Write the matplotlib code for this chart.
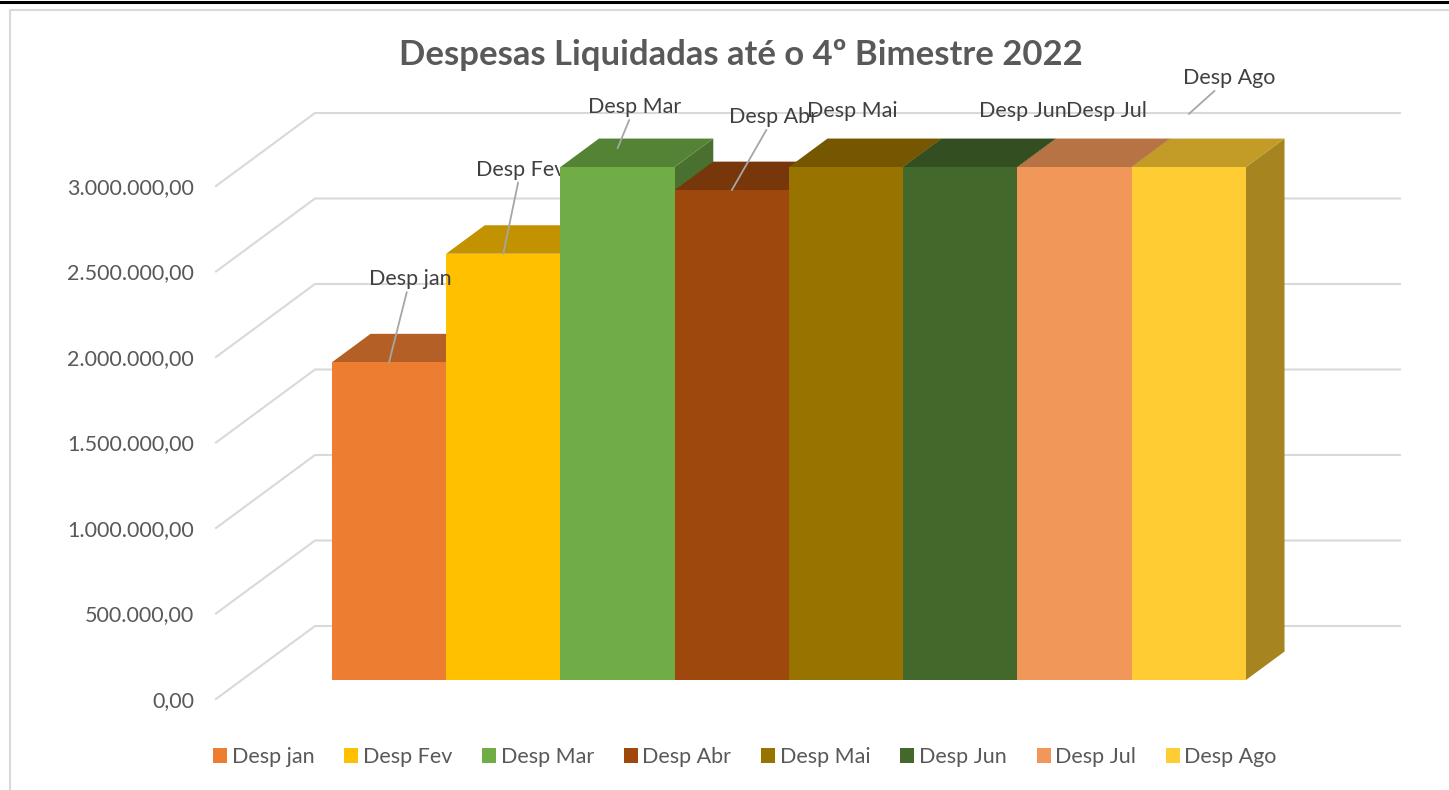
import matplotlib
matplotlib.use('Agg')
import matplotlib.pyplot as plt
from matplotlib.patches import Polygon, Patch
from matplotlib.lines import Line2D

# ---------------- data ----------------
title = 'Despesas Liquidadas até o 4º Bimestre 2022'
series = ['Desp jan', 'Desp Fev', 'Desp Mar', 'Desp Abr', 'Desp Mai', 'Desp Jun', 'Desp Jul', 'Desp Ago']
values = [1858000, 2493000, 3110000, 2865000, 3200000, 3200000, 3200000, 3310000]
colors = ['#ED7D31', '#FFC000', '#70AD47', '#9E480E', '#997300', '#43682B', '#F1975A', '#FFCD33']
yticks = [0, 500000, 1000000, 1500000, 2000000, 2500000, 3000000]
YMAX = 3000000

# ---------------- styling / layout ----------------
FONT = ['Lato', 'DejaVu Sans']
plt.rcParams['font.family'] = FONT
TXT = '#595959'
GRID = '#D9D9D9'

# label offsets (pixels, from the value point), leader-line flags, label layering
label_off = [(21, 83), (17.5, 84), (17, 41), (42, 73), (6, 22), (63, 22), (32, 22), (40, 36)]
leader = [True, True, True, True, False, False, False, True]
label_front = [True, False, True, True, True, True, True, True]

W, H = 1449, 790
fig = plt.figure(figsize=(W / 100, H / 100), dpi=100)
ax = fig.add_axes([0, 0, 1, 1])

PX_CAT = 114.25          # pixels per category
PX_VAL = 171e-6          # pixels per value unit
X0 = 363.3               # pixel x of category 0 centre at depth 0
Y0 = 91                  # pixel (from bottom) of value 0 at depth 0
ax.set_xlim(-X0 / PX_CAT, (W - X0) / PX_CAT)
ax.set_ylim(-Y0 / PX_VAL, (H - Y0) / PX_VAL)
ax.axis('off')

DX = 99 / PX_CAT         # x shift per unit depth
DY = 73 / PX_VAL         # y shift per unit depth
D_FRONT = 0.26
D_BACK = 0.65


def proj(x, v, d):
    return (x + d * DX, v + d * DY)


x_wall = (216 - X0) / PX_CAT
x_end = (1400 - 99 - X0) / PX_CAT

# walls / gridlines
for t in yticks:
    p0 = proj(x_wall, t, 0)
    p1 = proj(x_wall, t, 1)
    p2 = proj(x_end, t, 1)
    ax.plot([p0[0], p1[0], p2[0]], [p0[1], p1[1], p2[1]], color=GRID, lw=1.5,
            solid_joinstyle='miter', zorder=1)
    lbl = '{:,.2f}'.format(t).replace(',', 'X').replace('.', ',').replace('X', '.')
    ax.annotate(lbl, xy=p0, xytext=(-22, -2), textcoords='offset pixels',
                ha='right', va='center', fontsize=15.5, color=TXT, zorder=2)


def shade(c, f):
    c = matplotlib.colors.to_rgb(c)
    return tuple(min(1, x * f) for x in c)


n = len(values)
for i, (v, c) in enumerate(zip(values, colors)):
    h = min(v, YMAX)
    xl, xr = i - 0.5, i + 0.5
    z = 10 + 2 * i
    side = [proj(xr, 0, D_FRONT), proj(xr, h, D_FRONT), proj(xr, h, D_BACK), proj(xr, 0, D_BACK)]
    top = [proj(xl, h, D_FRONT), proj(xr, h, D_FRONT), proj(xr, h, D_BACK), proj(xl, h, D_BACK)]
    ax.add_patch(Polygon(side, closed=True, facecolor=shade(c, 0.65), edgecolor='none', zorder=z))
    ax.add_patch(Polygon(top, closed=True, facecolor=shade(c, 0.76), edgecolor='none', zorder=z))
    ax.bar(i + D_FRONT * DX, h, bottom=D_FRONT * DY, width=1.0, color=c,
           edgecolor='none', zorder=z + 0.2)
    vp = proj(i, v, D_FRONT)
    kw = dict(xy=vp, xytext=label_off[i], textcoords='offset pixels', ha='center', va='center',
              fontsize=15.5, color='#404040', zorder=(50 if label_front[i] else z + 1),
              annotation_clip=False)
    if leader[i]:
        kw['arrowprops'] = dict(arrowstyle='-', color='#A6A6A6', lw=1.3, shrinkA=0, shrinkB=0)
    ax.annotate(series[i], **kw)

# title
fig.text(741 / W, 1 - 55 / H, title, ha='center', va='center', fontsize=24.9,
         fontweight='bold', color=TXT)

# legend
handles = [Patch(facecolor=c, edgecolor='none') for c in colors]
fig.legend(handles, series, loc='center', bbox_to_anchor=(745 / W, 1 - 757 / H), ncol=8,
           frameon=False, fontsize=15.5, labelcolor=TXT, handlelength=0.65, handleheight=0.65,
           handletextpad=0.2, columnspacing=1.4, borderpad=0)

# chart border lines
fig.add_artist(Line2D([0, 1], [1 - 1.5 / H, 1 - 1.5 / H], color='black', lw=2.2))
fig.add_artist(Line2D([9.5 / W, 9.5 / W, 1], [0, 1 - 9.5 / H, 1 - 9.5 / H], color=GRID, lw=1.5))

fig.savefig('out.png', dpi=100)
